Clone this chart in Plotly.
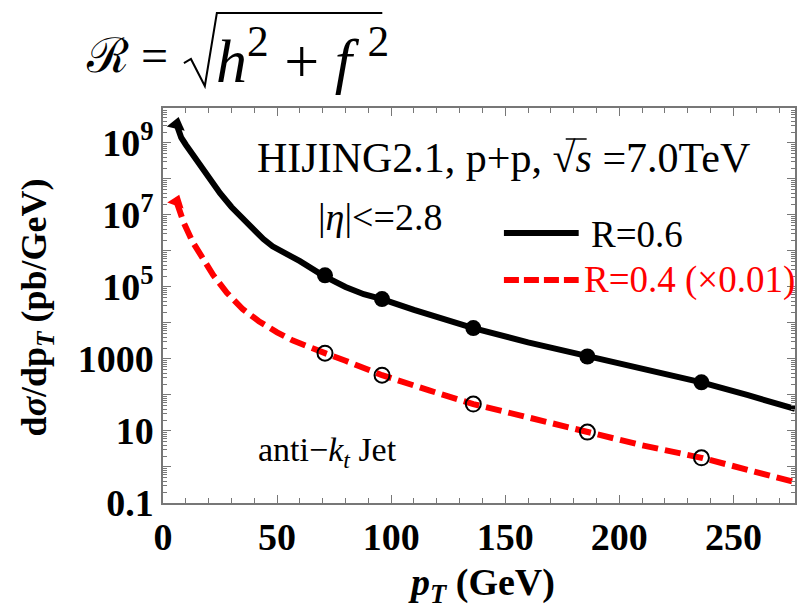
import plotly.graph_objects as go

# ---------------- data ----------------
pt_R06 = [6, 8, 10, 13, 16, 20, 25, 30, 35, 40, 44, 48, 60, 70, 80, 88, 96,
          110, 125, 136, 160, 186, 210, 236, 256, 277]
xs_R06 = [3.2e9, 1.4e9, 8.9e8, 4.8e8, 2.5e8, 1.07e8, 4.0e7, 1.66e7, 7.9e6, 3.7e6,
          2.14e6, 1.35e6, 5.2e5, 2.1e5, 1.0e5, 6.3e4, 4.6e4, 2.3e4, 1.15e4, 7.2e3,
          2.9e3, 1.17e3, 540, 224, 100, 41]

pt_R04 = [6, 9, 13, 16, 22, 28, 35, 42, 46, 50, 57, 64, 71, 80, 96, 117, 136, 161, 186,
          210, 236, 256, 277]
xs_R04 = [2.3e7, 6.3e6, 1.78e6, 8.3e5, 2.14e5, 6.9e4, 2.4e4, 1.12e4, 7.6e3, 5.5e3,
          3.24e3, 2.09e3, 1.45e3, 890, 355, 132, 56, 23, 9.3, 4.0, 1.8, 0.83, 0.38]

pt_pts = [71, 96, 136, 186, 236]
pts_R06 = [2.1e5, 4.6e4, 7.2e3, 1.17e3, 224]
pts_R04 = [1450, 355, 56, 9.3, 1.8]

x_ticks = [0, 50, 100, 150, 200, 250]
y_tickvals = [0.1, 1, 10, 100, 1000, 1e4, 1e5, 1e6, 1e7, 1e8, 1e9]
y_ticktext = ["0.1", "", "10", "", "1000", "", "10<sup>5</sup>", "",
              "10<sup>7</sup>", "", "10<sup>9</sup>"]

SERIF = "Liberation Serif"
RED = "#ff0000"
AX = "#777777"

W, H = 802, 610
L, R, T, B = 163, 797, 108, 503


def px(x):
    return (x - L) / (R - L)


def py(y):
    return (B - y) / (B - T)


fig = go.Figure()

fig.add_trace(go.Scatter(x=pt_R06, y=xs_R06, mode="lines",
                         line=dict(color="black", width=6), showlegend=False))
fig.add_trace(go.Scatter(x=pt_R04, y=xs_R04, mode="lines",
                         line=dict(color=RED, width=6, dash="16px,7px"), showlegend=False))
# arrow heads at the low-pT ends
fig.add_trace(go.Scatter(x=pt_R06[:1], y=xs_R06[:1], mode="markers",
                         marker=dict(symbol="triangle-up", size=16, color="black", angle=14),
                         showlegend=False))
fig.add_trace(go.Scatter(x=pt_R04[:1], y=xs_R04[:1], mode="markers",
                         marker=dict(symbol="triangle-up", size=15, color=RED, angle=20),
                         showlegend=False))
fig.add_trace(go.Scatter(x=pt_pts, y=pts_R06, mode="markers",
                         marker=dict(symbol="circle", size=16, color="black"),
                         showlegend=False))
fig.add_trace(go.Scatter(x=pt_pts, y=pts_R04, mode="markers",
                         marker=dict(symbol="circle-open", size=15, color="black",
                                     line=dict(width=2, color="black")),
                         showlegend=False))

tickfont = dict(family=SERIF, size=38, color="black", weight="bold")

fig.update_xaxes(range=[0, 277], tickvals=x_ticks, ticktext=[str(v) for v in x_ticks],
                 ticks="inside", ticklen=8, tickwidth=1, tickcolor=AX,
                 showline=True, linecolor=AX, linewidth=1.5, mirror="allticks",
                 showgrid=False, zeroline=False, tickfont=tickfont,
                 minor=dict(ticks="inside", ticklen=5, dtick=10, tick0=0,
                            tickcolor=AX, showgrid=False))
fig.update_yaxes(type="log", range=[-1, 9.97], tickvals=y_tickvals, ticktext=y_ticktext,
                 ticks="inside", ticklen=8, tickwidth=1, tickcolor=AX,
                 showline=True, linecolor=AX, linewidth=1.5, mirror="allticks",
                 showgrid=False, zeroline=False, tickfont=tickfont,
                 minor=dict(ticks="inside", ticklen=4, dtick="D1",
                            tickcolor=AX, showgrid=False))

ann = []


def text(x, y, s, size, color="black", xanchor="center", angle=0, bold=False):
    ann.append(dict(x=px(x), y=py(y), xref="paper", yref="paper", text=s,
                    showarrow=False, xanchor=xanchor, yanchor="middle", textangle=angle,
                    font=dict(family=SERIF, size=size, color=color,
                              weight="bold" if bold else "normal")))


text(505, 158, "HIJING2.1, p+p, √<i>s</i> =7.0TeV", 42)
text(381, 217, "|<i>η</i>|<=2.8", 38)
text(590, 234, "R=0.6", 37, xanchor="left")
text(583, 280, "R=0.4 (×0.01)", 37, color=RED, xanchor="left")
text(328, 452, "anti−<i>k</i><sub><i>t</i></sub> Jet", 34)
# axis titles
text(36, 307, "d<i>σ</i>/dp<sub><i>T</i></sub> (pb/GeV)", 36, angle=-90, bold=True)
text(483, 585, "<i>p</i><sub><i>T</i></sub> (GeV)", 38, bold=True)
# formula on top
text(84, 56, "ℛ =", 48, xanchor="left")
text(214, 56, "<i>h</i><sup>2</sup> + <i>f</i> <sup>2</sup>", 62, xanchor="left")

shapes = [
    dict(type="line", xref="paper", yref="paper", x0=px(505), x1=px(580), y0=py(233), y1=py(233),
         line=dict(color="black", width=6)),
    dict(type="line", xref="paper", yref="paper", x0=px(505), x1=px(580), y0=py(280), y1=py(280),
         line=dict(color=RED, width=6, dash="15px,5px")),
    # radical of the formula
    dict(type="path", xref="paper", yref="paper",
         path="M {:.4f},{:.4f} L {:.4f},{:.4f} L {:.4f},{:.4f} L {:.4f},{:.4f} L {:.4f},{:.4f}".format(
             px(184), py(63), px(191), py(59), px(205), py(86), px(217), py(13), px(383), py(13)),
         line=dict(color="black", width=2)),
    # overline of sqrt(s)
    dict(type="line", xref="paper", yref="paper", x0=px(567), x1=px(588), y0=py(139), y1=py(139),
         line=dict(color="black", width=1.5)),
]

fig.update_layout(width=W, height=H, margin=dict(l=L, r=W - R, t=T, b=H - B),
                  plot_bgcolor="white", paper_bgcolor="white",
                  annotations=ann, shapes=shapes, showlegend=False)

fig.write_html("out.html")
